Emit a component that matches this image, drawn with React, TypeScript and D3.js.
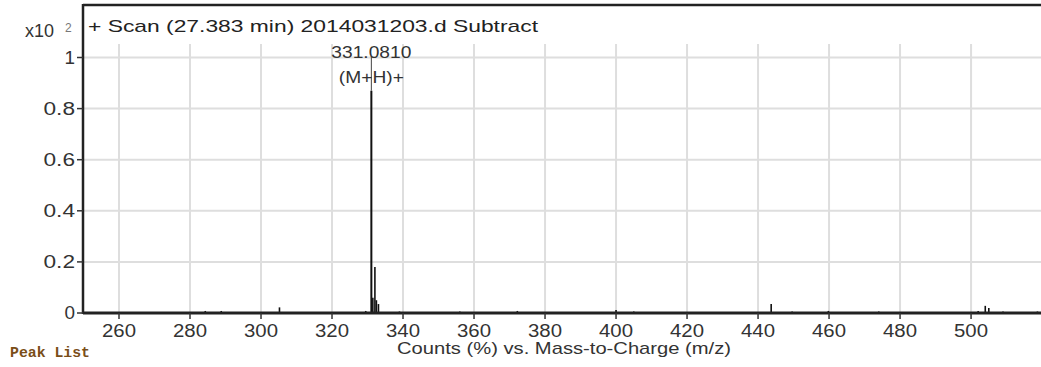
import React from "react";
import * as d3 from "d3";

const mzValues = [284.3, 288.8, 305.2, 329.5, 331.081, 331.5, 332.08, 332.5, 333.08, 339.0, 356.0, 372.2, 400.0, 405.0, 443.7, 449.6, 459.8, 474.0, 502.0, 504.0, 505.0, 509.0, 518.7];
const intensities = [0.008, 0.008, 0.022, 0.008, 0.87, 0.06, 0.18, 0.05, 0.035, 0.006, 0.006, 0.008, 0.012, 0.006, 0.035, 0.006, 0.008, 0.006, 0.008, 0.028, 0.02, 0.006, 0.006];

const xTicks = [260, 280, 300, 320, 340, 360, 380, 400, 420, 440, 460, 480, 500];
const yTicks = [0, 0.2, 0.4, 0.6, 0.8, 1];
const yTickLabels = ["0", "0.2", "0.4", "0.6", "0.8", "1"];

const titleText = "+ Scan (27.383 min) 2014031203.d  Subtract";
const xAxisTitle = "Counts (%) vs. Mass-to-Charge (m/z)";
const peakLabel = ["331.0810", "(M+H)+"];
const peakLabelMz = 331.081;

export default function App() {
  const x = d3.scaleLinear().domain([250, 519.7]).range([83.5, 1041]);
  const y = d3.scaleLinear().domain([0, 1]).range([313, 57.5]);
  const font = "Arial, 'Liberation Sans', sans-serif";
  const topPeak = intensities[mzValues.indexOf(peakLabelMz)];
  const la = "spacingAndGlyphs";

  return (
    <svg
      width={1041}
      height={367}
      style={{ position: "absolute", left: 0, top: 0, background: "#fff" }}
    >
      <rect x={0} y={0} width={1041} height={367} fill="#fff" />
      {/* grid */}
      {yTicks.filter((t) => t > 0).map((t) => (
        <line key={"hy" + t} x1={84} x2={1041} y1={y(t)} y2={y(t)} stroke="#dedede" strokeWidth={2} />
      ))}
      {xTicks.map((t) => (
        <line key={"vx" + t} x1={x(t)} x2={x(t)} y1={44} y2={313} stroke="#dedede" strokeWidth={2} />
      ))}
      {/* peaks */}
      {mzValues.map((m, i) => (
        <line
          key={"p" + i}
          x1={x(m)}
          x2={x(m)}
          y1={y(0)}
          y2={y(intensities[i])}
          stroke="#111"
          strokeWidth={m === peakLabelMz ? 2 : 1.6}
        />
      ))}
      {/* peak label connector */}
      <line x1={x(peakLabelMz)} x2={x(peakLabelMz)} y1={56} y2={y(topPeak)} stroke="#444" strokeWidth={1} />
      <text x={x(peakLabelMz)} y={58} textAnchor="middle" fontFamily={font} fontSize={17} fill="#333" textLength={80} lengthAdjust={la}>
        {peakLabel[0]}
      </text>
      <text x={x(peakLabelMz)} y={83} textAnchor="middle" fontFamily={font} fontSize={17} fill="#333" textLength={65} lengthAdjust={la}>
        {peakLabel[1]}
      </text>
      {/* frame */}
      <line x1={83} x2={1041} y1={5} y2={5} stroke="#222" strokeWidth={2.5} />
      <line x1={83} x2={83} y1={4} y2={314} stroke="#222" strokeWidth={2.5} />
      <line x1={83} x2={1041} y1={313} y2={313} stroke="#222" strokeWidth={3} />
      {/* y ticks */}
      {yTicks.map((t, i) => (
        <g key={"yt" + t}>
          <line x1={77} x2={83} y1={y(t)} y2={y(t)} stroke="#333" strokeWidth={1.5} />
          <text x={75} y={y(t) + 6} textAnchor="end" fontFamily={font} fontSize={18} fill="#333" textLength={yTickLabels[i].length * 10.5} lengthAdjust={la}>
            {yTickLabels[i]}
          </text>
        </g>
      ))}
      {/* x ticks */}
      {xTicks.map((t) => (
        <g key={"xt" + t}>
          <line x1={x(t)} x2={x(t)} y1={313} y2={319} stroke="#333" strokeWidth={1.5} />
          <text x={x(t)} y={337} textAnchor="middle" fontFamily={font} fontSize={18} fill="#333" textLength={34} lengthAdjust={la}>
            {t}
          </text>
        </g>
      ))}
      {/* titles */}
      <text x={88} y={32} fontFamily={font} fontSize={17} fill="#222" textLength={450} lengthAdjust={la}>
        {titleText}
      </text>
      <text x={25} y={37} fontFamily={font} fontSize={18} fill="#333" textLength={29} lengthAdjust={la}>x10</text>
      <text x={65} y={32} fontFamily={font} fontSize={12} fill="#777">2</text>
      <text x={397} y={354} fontFamily={font} fontSize={17} fill="#333" textLength={334} lengthAdjust={la}>
        {xAxisTitle}
      </text>
      <text x={10} y={357} fontFamily="'Liberation Mono', 'Courier New', monospace" fontSize={15} fill="#7a4e18" fontWeight="bold" textLength={80} lengthAdjust={la}>
        Peak List
      </text>
    </svg>
  );
}
